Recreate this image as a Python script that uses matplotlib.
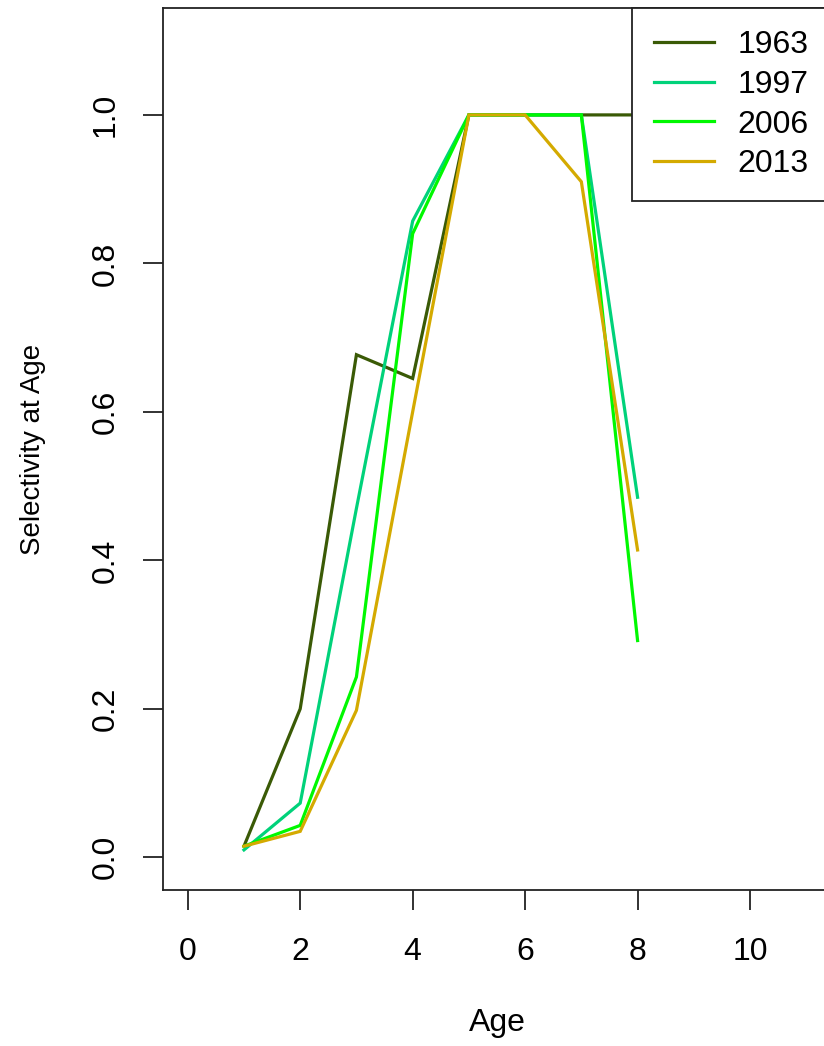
import matplotlib
matplotlib.use("Agg")
import matplotlib.pyplot as plt

# selectivity-at-age curves for four assessment years
ages = [1, 2, 3, 4, 5, 6, 7, 8]
sel_1963 = [0.015, 0.200, 0.677, 0.645, 1.0, 1.0, 1.0, 1.0]
sel_1997 = [0.010, 0.073, 0.470, 0.857, 1.0, 1.0, 1.0, 0.485]
sel_2006 = [0.015, 0.043, 0.243, 0.840, 1.0, 1.0, 1.0, 0.292]
sel_2013 = [0.015, 0.035, 0.198, 0.600, 1.0, 1.0, 0.910, 0.414]
years = ["1963", "1997", "2006", "2013"]
line_cols = ["#3a5a06", "#00d27a", "#00f800", "#d4aa00"]

plt.rcParams['font.family'] = ['Liberation Sans', 'DejaVu Sans']

fig = plt.figure(figsize=(8.24, 10.46), dpi=100)
ax = fig.add_axes([163 / 824, 1 - 890 / 1046, (831 - 163) / 824, (890 - 8) / 1046])

for sel, yr, col in zip([sel_1963, sel_1997, sel_2006, sel_2013], years, line_cols):
    ax.plot(ages, sel, color=col, lw=2.3, label=yr, solid_joinstyle='miter')

ax.set_xlim(-0.44, 11.44)
ax.set_ylim(-0.044, 1.144)
ax.set_xticks([0, 2, 4, 6, 8, 10])
ax.set_yticks([0.0, 0.2, 0.4, 0.6, 0.8, 1.0])
ax.set_yticklabels(["0.0", "0.2", "0.4", "0.6", "0.8", "1.0"], rotation=90, va='center')

for s in ax.spines.values():
    s.set_linewidth(1.3)
    s.set_color("#222222")
ax.tick_params(length=14.5, width=1.3, color="#222222", labelsize=23)
ax.tick_params(axis='x', pad=19)
ax.tick_params(axis='y', pad=16)

ax.set_xlabel("Age", fontsize=23, labelpad=30)
ax.set_ylabel("Selectivity at Age", fontsize=20, labelpad=32)

leg = ax.legend(loc='upper right', bbox_to_anchor=(1, 1), borderaxespad=0,
                fontsize=23, handlelength=1.85, handletextpad=0.75,
                borderpad=0.7, labelspacing=0.3, fancybox=False,
                framealpha=1, edgecolor="#222222")
leg.get_frame().set_linewidth(1.3)

fig.savefig("out.png", dpi=100)
